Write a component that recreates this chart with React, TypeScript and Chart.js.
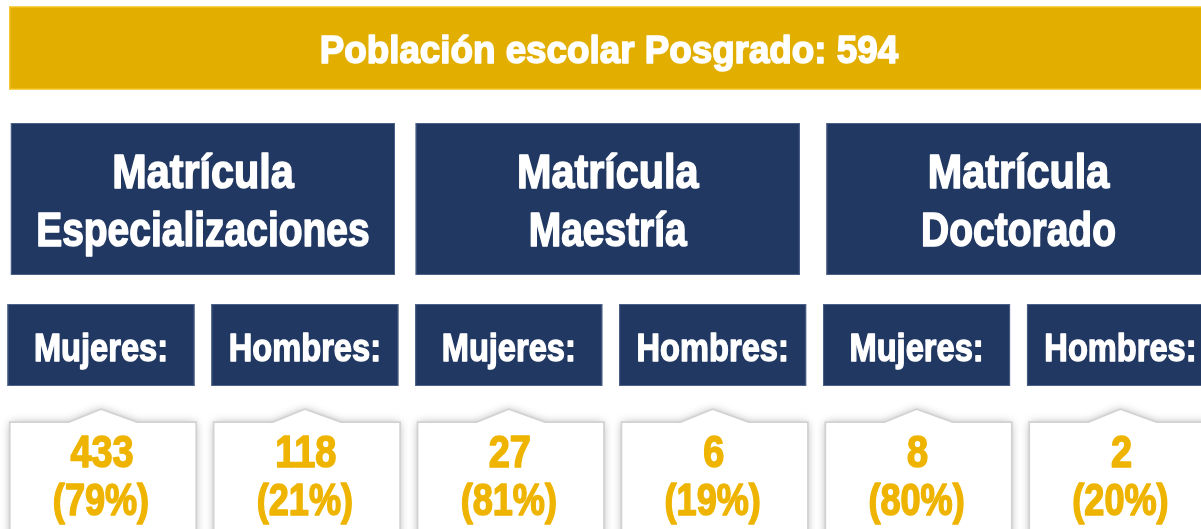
import React, { useEffect, useRef } from "react";
import { Chart, registerables } from "chart.js";

Chart.register(...registerables);

// ---- data ----
const TITLE_LABEL = "Población escolar Posgrado:";
const TOTAL = 594;
const PROGRAM_LINE1 = ["Matrícula", "Matrícula", "Matrícula"];
const PROGRAM_LINE2 = ["Especializaciones", "Maestría", "Doctorado"];
const GENDER_LABELS = ["Mujeres:", "Hombres:", "Mujeres:", "Hombres:", "Mujeres:", "Hombres:"];
const COUNTS = [433, 118, 27, 6, 8, 2];
const PERCENTS = [79, 21, 81, 19, 80, 20];

// ---- styles / layout ----
const W = 1201;
const H = 529;
const GOLD_BG = "#E2AE00";
const GOLD_BORDER = "#F3C21F";
const NAVY = "#213863";
const NAVY_BORDER = "#4C6088";
const GOLD_TEXT = "#EEB400";

function hasFont(name: string): boolean {
  const c = document.createElement("canvas").getContext("2d");
  if (!c) return false;
  const s = "Mujeres: Hombres 0123 Matrícula";
  c.font = "bold 40px monospace";
  const a = c.measureText(s).width;
  c.font = `bold 40px "${name}", monospace`;
  const b = c.measureText(s).width;
  return Math.abs(a - b) > 0.5;
}

function drawText(
  ctx: CanvasRenderingContext2D,
  text: string,
  cx: number,
  baseline: number,
  family: string,
  size: number,
  sx: number,
  color: string,
  weight: number
) {
  ctx.save();
  ctx.translate(cx, baseline);
  ctx.scale(sx, 1);
  ctx.font = `bold ${size}px ${family}`;
  ctx.textAlign = "center";
  ctx.textBaseline = "alphabetic";
  ctx.fillStyle = color;
  ctx.fillText(text, 0, 0);
  if (weight > 0) {
    ctx.strokeStyle = color;
    ctx.lineWidth = weight;
    ctx.lineJoin = "round";
    ctx.strokeText(text, 0, 0);
  }
  ctx.restore();
}

export default function App() {
  const ref = useRef<HTMLCanvasElement | null>(null);

  useEffect(() => {
    const canvas = ref.current;
    if (!canvas) return;

    const narrowOk = hasFont("Liberation Sans Narrow");
    const narrowFam = narrowOk ? '"Liberation Sans Narrow", sans-serif' : '"Liberation Sans", Arial, sans-serif';
    const narrowSx = narrowOk ? 1 : 0.82;

    const infographic = {
      id: "infographic",
      afterDraw(chart: any) {
        const ctx: CanvasRenderingContext2D = chart.ctx;
        const meta = chart.getDatasetMeta(0);
        const xs: number[] = meta.data.map((p: any) => p.x);
        const pitch = xs[1] - xs[0];

        ctx.save();

        // Banner
        const bLeft = xs[0] - 0.447 * pitch;
        ctx.fillStyle = GOLD_BG;
        ctx.fillRect(bLeft, 7, W + 20 - bLeft, 82);
        ctx.strokeStyle = GOLD_BORDER;
        ctx.lineWidth = 1.5;
        ctx.strokeRect(bLeft, 7, W + 20 - bLeft, 82);
        drawText(ctx, `${TITLE_LABEL} ${TOTAL}`, (bLeft + W + 7) / 2, 63, narrowFam, 39, narrowSx * 1.15, "#FFFFFF", 1.6);

        // Program boxes
        for (let p = 0; p < PROGRAM_LINE1.length; p++) {
          const cx = (xs[2 * p] + xs[2 * p + 1]) / 2 - (p === 1 ? 3 : 0);
          const half = 0.942 * pitch;
          ctx.fillStyle = NAVY;
          ctx.fillRect(cx - half, 123, 2 * half, 152);
          ctx.strokeStyle = NAVY_BORDER;
          ctx.lineWidth = 1;
          ctx.strokeRect(cx - half + 0.5, 123.5, 2 * half - 1, 151);
          drawText(ctx, PROGRAM_LINE1[p], cx, 188, narrowFam, 48, narrowSx * 1.05, "#FFFFFF", 1.6);
          drawText(ctx, PROGRAM_LINE2[p], cx, 246, narrowFam, 48, narrowSx * 0.99, "#FFFFFF", 1.6);
        }

        // Gender boxes
        for (let i = 0; i < GENDER_LABELS.length; i++) {
          const cx = xs[i];
          const half = 0.4586 * pitch;
          ctx.fillStyle = NAVY;
          ctx.fillRect(cx - half, 304, 2 * half, 82);
          ctx.strokeStyle = NAVY_BORDER;
          ctx.lineWidth = 1;
          ctx.strokeRect(cx - half + 0.5, 304.5, 2 * half - 1, 81);
          drawText(ctx, GENDER_LABELS[i], cx, 361, narrowFam, 39, narrowSx * 1.02, "#FFFFFF", 1.4);
        }

        // Callouts
        for (let i = 0; i < COUNTS.length; i++) {
          const cx = xs[i] + 2;
          const half = 0.453 * pitch;
          const top = 423;
          const apex = 410;
          const notch = 34;
          const bottom = H + 30;
          const path = () => {
            ctx.beginPath();
            ctx.moveTo(cx - half, bottom);
            ctx.lineTo(cx - half, top);
            ctx.lineTo(cx - notch, top);
            ctx.lineTo(cx - 2, apex);
            ctx.lineTo(cx + notch, top);
            ctx.lineTo(cx + half, top);
            ctx.lineTo(cx + half, bottom);
            ctx.closePath();
          };
          ctx.save();
          ctx.shadowColor = "rgba(0,0,0,0.35)";
          ctx.shadowBlur = 10;
          ctx.fillStyle = "#FFFFFF";
          path();
          ctx.fill();
          ctx.restore();
          ctx.strokeStyle = "#D2D2D2";
          ctx.lineWidth = 3.5;
          path();
          ctx.stroke();
          ctx.fillStyle = "#FFFFFF";
          path();
          ctx.fill();

          drawText(ctx, String(COUNTS[i]), cx - 1, 467, narrowFam, 44, narrowSx * 1.05, GOLD_TEXT, 1.6);
          drawText(ctx, `(${PERCENTS[i]}%)`, cx - 2, 515, narrowFam, 44, narrowSx * 1.0, GOLD_TEXT, 1.6);
        }

        ctx.restore();
      },
    };

    const chart = new Chart(canvas, {
      type: "scatter",
      data: {
        datasets: [
          {
            label: "Matrícula",
            data: COUNTS.map((v, i) => ({ x: i, y: v })),
            pointRadius: 0,
            pointHoverRadius: 0,
            showLine: false,
          },
        ],
      },
      options: {
        responsive: false,
        animation: false,
        events: [],
        layout: { padding: 0 },
        plugins: {
          legend: { display: false },
          tooltip: { enabled: false },
          title: { display: false },
        },
        scales: {
          x: { type: "linear", min: -0.4953, max: 5.395, display: false },
          y: { type: "linear", min: 0, max: 500, display: false },
        },
      },
      plugins: [infographic],
    });

    return () => {
      chart.destroy();
    };
  }, []);

  return (
    <div
      style={{
        position: "fixed",
        left: 0,
        top: 0,
        width: W,
        height: H,
        background: "#FFFFFF",
        overflow: "hidden",
      }}
    >
      <canvas ref={ref} width={W} height={H} style={{ display: "block", width: W, height: H }} />
    </div>
  );
}
